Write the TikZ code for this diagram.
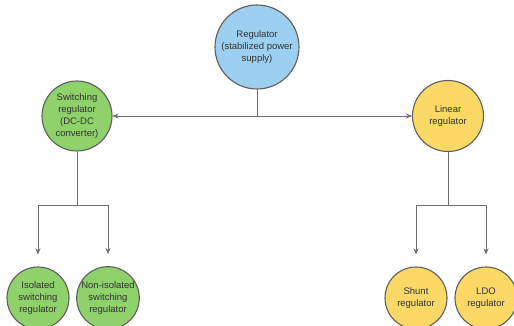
\documentclass[tikz,border=0pt]{standalone}
\usepackage{fontspec}
\setmainfont{Liberation Sans}
\usetikzlibrary{arrows.meta}

\definecolor{regblue}{HTML}{9DCFF0}
\definecolor{swgreen}{HTML}{8FD16A}
\definecolor{linyellow}{HTML}{FCD866}
\definecolor{edgegray}{HTML}{5E5E5E}
\definecolor{textgray}{HTML}{333333}

\tikzset{
  bubble/.style={circle, draw=edgegray, line width=1.1pt, text=textgray, align=center,
    inner sep=0pt, font=\fontsize{9.5}{12}\selectfont},
  link/.style={draw=edgegray!90, line width=0.9pt},
  arrow/.style={link, -{Stealth[length=6pt,width=5pt]}},
}

\begin{document}
\begin{tikzpicture}[x=1pt, y=-1pt]
\useasboundingbox (0,0) rectangle (514,326);

\node[bubble, fill=regblue, minimum size=84pt] (reg) at (257,47) {Regulator\\(stabilized power\\supply)};

\node[bubble, fill=swgreen, minimum size=70pt] (sw) at (77,116) {Switching\\regulator\\(DC-DC\\converter)};
\node[bubble, fill=linyellow, minimum size=71pt] (lin) at (448,116) {Linear\\regulator};

\node[bubble, fill=swgreen, minimum size=62pt] (iso) at (38,298) {Isolated\\switching\\regulator};
\node[bubble, fill=swgreen, minimum size=62pt] (noniso) at (108,298) {Non-isolated\\switching\\regulator};
\node[bubble, fill=linyellow, minimum size=62pt] (shunt) at (416,298) {Shunt\\regulator};
\node[bubble, fill=linyellow, minimum size=62pt] (ldo) at (486,298) {LDO\\regulator};

\coordinate (reg-j) at (257,116);
\coordinate (sw-j) at (77,205);
\coordinate (lin-j) at (448,205);

\draw [link] (reg) -- (reg-j);
\draw [arrow] (reg-j) -- (sw);
\draw [arrow] (reg-j) -- (lin);

\draw [link] (sw) -- (sw-j);
\draw [arrow, shorten >=12pt] (sw-j) -| (iso.north);
\draw [arrow, shorten >=12pt] (sw-j) -| (noniso.north);

\draw [link] (lin) -- (lin-j);
\draw [arrow, shorten >=12pt] (lin-j) -| (shunt.north);
\draw [arrow, shorten >=12pt] (lin-j) -| (ldo.north);
\end{tikzpicture}
\end{document}
